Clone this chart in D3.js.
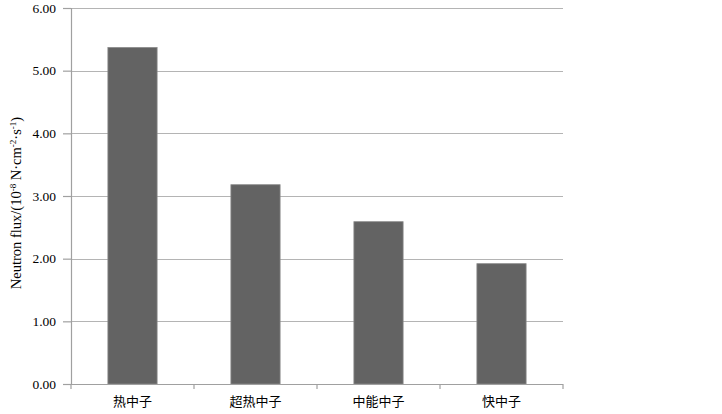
<!DOCTYPE html>
<html lang="zh">
<head>
<meta charset="UTF-8">
<title>Neutron flux</title>
<script src="https://d3js.org/d3.v7.min.js"></script>
<style>
  body { margin: 0; background: #fff; }
</style>
</head>
<body>
<div id="chart"></div>
<script>
    // data
    var categories = ["热中子", "超热中子", "中能中子", "快中子"];
    var fluxValues = [5.37, 3.18, 2.59, 1.92];
    var yTicks = [0, 1, 2, 3, 4, 5, 6];

    var width = 722, height = 414;
    var margin = {top: 8, right: 159, bottom: 30, left: 71};
    var innerW = width - margin.left - margin.right;
    var innerH = height - margin.top - margin.bottom;

    var svg = d3.select("#chart").append("svg")
        .attr("width", width)
        .attr("height", height);

    var g = svg.append("g")
        .attr("transform", `translate(${margin.left},${margin.top})`);

    var x = d3.scaleBand().domain(categories).range([0, innerW]).paddingInner(0.6).paddingOuter(0.3);
    var xb = d3.scaleBand().domain(categories).range([0, innerW]);
    var y = d3.scaleLinear().domain([0, 6]).range([innerH, 0]);

    // gridlines
    g.append("g")
        .selectAll("line")
        .data(yTicks.filter(d => d > 0))
        .join("line")
        .attr("x1", 0).attr("x2", innerW)
        .attr("y1", d => Math.round(y(d)) + 0.5)
        .attr("y2", d => Math.round(y(d)) + 0.5)
        .attr("stroke", "#b4b4b4")
        .attr("stroke-width", 1.2);

    // bars
    g.append("g")
        .selectAll("rect")
        .data(fluxValues)
        .join("rect")
        .attr("x", (d, i) => x(categories[i]))
        .attr("y", d => y(d))
        .attr("width", x.bandwidth())
        .attr("height", d => innerH - y(d))
        .attr("fill", "#636363")
        .attr("stroke", "#8a8a8a")
        .attr("stroke-width", 0.8);

    // y axis
    var yAxis = g.append("g")
        .call(d3.axisLeft(y).tickValues(yTicks).tickFormat(d3.format(".2f")).tickSize(8).tickPadding(7));
    yAxis.select(".domain").attr("stroke", "#a0a0a0").attr("stroke-width", 1.2);
    yAxis.selectAll(".tick line").attr("stroke", "#a0a0a0").attr("stroke-width", 1.2);
    yAxis.selectAll("text")
        .style("font-family", "'Liberation Serif', 'DejaVu Serif', serif")
        .style("font-size", "13.5px")
        .attr("fill", "#000");

    // x axis
    var xAxisG = g.append("g").attr("transform", `translate(0,${innerH})`);
    xAxisG.append("line")
        .attr("x1", 0).attr("x2", innerW)
        .attr("y1", 0.5).attr("y2", 0.5)
        .attr("stroke", "#a0a0a0").attr("stroke-width", 1.2);
    var boundaries = categories.map(c => xb(c)).concat([innerW]);
    xAxisG.selectAll(".xtick")
        .data(boundaries)
        .join("line")
        .attr("class", "xtick")
        .attr("x1", d => d).attr("x2", d => d)
        .attr("y1", 0).attr("y2", 5)
        .attr("stroke", "#a0a0a0").attr("stroke-width", 1.2);
    xAxisG.selectAll(".xlab")
        .data(categories)
        .join("text")
        .attr("class", "xlab")
        .attr("x", d => xb(d) + xb.bandwidth() / 2)
        .attr("y", 22)
        .attr("text-anchor", "middle")
        .style("font-family", "'Noto Sans CJK SC', sans-serif")
        .style("font-size", "13px")
        .attr("fill", "#000")
        .text(d => d);

    // y title
    var title = svg.append("text")
        .attr("transform", "translate(21,203) rotate(-90)")
        .attr("text-anchor", "middle")
        .style("font-family", "'Liberation Serif', 'DejaVu Serif', serif")
        .style("font-size", "14.5px")
        .attr("fill", "#000");
    title.append("tspan").text("Neutron flux/(10");
    title.append("tspan").attr("dy", -5).style("font-size", "9px").text("-8");
    title.append("tspan").attr("dy", 5).text(" N·cm");
    title.append("tspan").attr("dy", -5).style("font-size", "9px").text("-2");
    title.append("tspan").attr("dy", 5).text("·s");
    title.append("tspan").attr("dy", -5).style("font-size", "9px").text("-1");
    title.append("tspan").attr("dy", 5).text(")");
</script>
</body>
</html>
